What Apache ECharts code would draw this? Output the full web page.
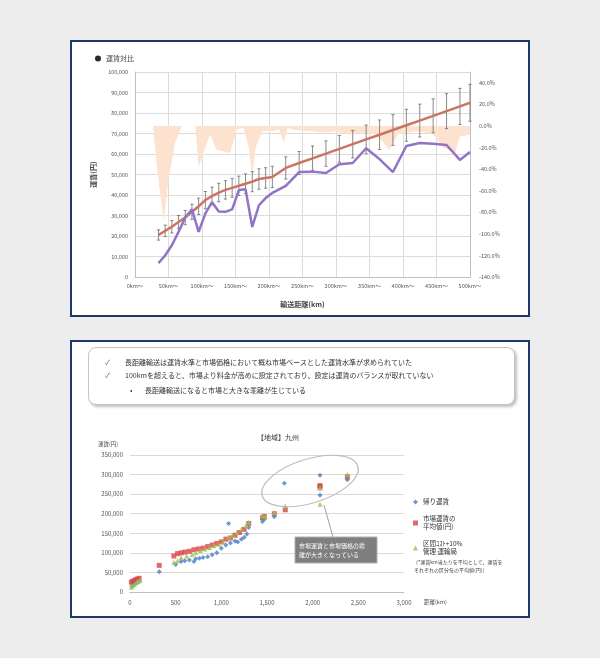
<!DOCTYPE html>
<html><head><meta charset="utf-8">
<script src="https://cdn.jsdelivr.net/npm/echarts@6/dist/echarts.min.js"></script>
<style>
html,body{margin:0;padding:0;background:#ededed;width:600px;height:658px;overflow:hidden;}
.panel{position:absolute;background:#fff;border:2px solid #1b3a6b;box-sizing:border-box;}
#box{position:absolute;left:88px;top:347px;width:427px;height:58px;border:1.5px solid #c4c4c4;border-radius:8px;box-sizing:border-box;box-shadow:2px 2px 3px rgba(0,0,0,0.25);background:#fff;}
#chart{position:absolute;left:0;top:0;width:600px;height:658px;}
</style></head>
<body>
<div class="panel" style="left:70px;top:40px;width:460px;height:277px;"></div>
<div class="panel" style="left:70px;top:340px;width:460px;height:278px;"></div>
<div id="box"></div>
<div id="chart"></div>
<script>
// ---------- Chart 1 data ----------
const km1 = [35,45,55,65,75,85,95,105,115,125,135,145,155,165,175,185,195,205,225,245,265,285,305,325,345,365,385,405,425,445,465,485,500];
const fare = [20500,22500,24500,26800,29000,31800,34500,37500,39500,41200,42500,43500,44500,45500,46500,47800,48300,48800,53200,55600,57900,60200,62500,64800,67100,69400,71700,74000,76300,78600,80900,83200,85000];
const market = [6800,10500,15500,22000,29000,33000,22000,31000,36500,32000,31800,33000,42400,42800,24400,35000,38500,41000,44500,51200,51400,50700,55000,55600,62800,57500,51200,63900,65400,65000,64400,57100,61000];
const errHigh = [23000,25300,27500,30000,32500,35500,38500,41700,43800,45700,47000,48100,49200,50300,51400,52800,53300,54000,58600,61200,63900,66400,69000,71500,74100,76600,79200,81800,84300,86900,89400,92000,94000];
const errLow = [18000,19700,21500,23600,25500,28100,30500,33300,35200,36700,38000,38900,39800,40700,41600,42800,43300,43600,47800,50000,51900,54000,56000,58100,60100,62200,64200,66200,68300,70300,72400,74400,76000];
const ratioKm = [27,33,43,50,60,70,90,95,112,122,142,152,162,170,175,180,190,205,215,222,228,240,260,280,300,320,340,360,380,392,405,425,445,460,478,485,500];
const ratioPct = [0,-40,-88,-50,-15,0,0,-38,-8,-22,-25,-3,-2,-20,-48,-20,-5,-5,-3,-15,-2,-4,-5,-6,-5,-8,-6,-8,-22,-8,-6,-5,-8,-20,-25,-10,-8];
const xTicks1 = ['0km～','50km～','100km～','150km～','200km～','250km～','300km～','350km～','400km～','450km～','500km～'];

// ---------- Chart 2 data ----------
const returnFare = [[20,15000],[40,18000],[60,21000],[80,24000],[100,27000],[320,52000],[500,70000],[560,78000],[600,80000],[650,82000],[700,78000],[720,85000],[760,86000],[800,88000],[850,90000],[900,95000],[950,100000],[1000,112000],[1050,120000],[1080,175000],[1100,125000],[1150,130000],[1180,128000],[1220,135000],[1250,140000],[1280,148000],[1300,165000],[1450,180000],[1470,186000],[1580,192000],[1690,278000],[2080,298000],[2080,247000],[2380,287000]];
const marketAvg = [[15,25000],[30,27000],[45,29000],[60,31000],[80,33000],[100,35000],[320,68000],[480,92000],[520,98000],[560,100000],[600,102000],[650,104000],[700,108000],[750,110000],[800,112000],[850,116000],[900,120000],[950,124000],[1000,128000],[1050,135000],[1100,138000],[1150,145000],[1200,152000],[1250,160000],[1300,175000],[1450,190000],[1470,193000],[1580,200000],[1700,210000],[2080,272000],[2080,268000],[2380,294000]];
const costPlus = [[15,12000],[30,16000],[50,20000],[70,24000],[90,28000],[110,30000],[480,76000],[520,80000],[560,88000],[620,92000],[680,96000],[720,100000],[770,106000],[820,110000],[870,114000],[920,118000],[970,122000],[1020,128000],[1080,140000],[1120,145000],[1170,152000],[1220,160000],[1270,170000],[1300,178000],[1450,195000],[1480,192000],[1580,203000],[1700,220000],[2080,265000],[2080,224000],[2380,300000]];
const seriesNames2 = ['帰り運賃','市場運賃の\n平均値(円)','区間ｺｽﾄ+10%\n管理 運輸局'];

const bullets = [
  '長距離輸送は運賃水準と市場価格において概ね市場ベースとした運賃水準が求められていた',
  '100kmを超えると、市場より料金が高めに設定されており、設定は運賃のバランスが取れていない',
  '長距離輸送になると市場と大きな乖離が生じている'
];

const F = '"Noto Sans CJK JP","Noto Sans",sans-serif';
const fmt = v => v.toLocaleString('en-US');
const chart = echarts.init(document.getElementById('chart'), null, {renderer:'canvas'});

const txt = (x,y,t,size,color,extra) => Object.assign({type:'text',left:x,top:y,style:{text:t,fontSize:size,fill:color||'#333',fontFamily:F}}, extra||{});

chart.setOption({
  backgroundColor:'transparent',
  animation:false,
  textStyle:{fontFamily:F},
  grid:[
    {left:135,top:72,width:335,height:205},
    {left:130,top:455,width:274,height:137}
  ],
  legend:[
    {left:90,top:50,itemWidth:6,itemHeight:6,icon:'circle',textStyle:{fontSize:7,color:'#444'},
     data:[{name:'運賃対比',itemStyle:{color:'#2a2a2a'}}]},
    {orient:'vertical',left:408,top:493,itemGap:9,itemWidth:5,itemHeight:5,
     textStyle:{fontSize:6.5,lineHeight:8,color:'#333'},data:seriesNames2}
  ],
  xAxis:[
    {gridIndex:0,type:'value',min:0,max:500,interval:50,
     name:'輸送距離(km)',nameLocation:'middle',nameGap:24,nameTextStyle:{fontSize:7,fontWeight:'bold',color:'#444'},
     axisLine:{lineStyle:{color:'#bfbfbf'}},axisTick:{show:false},
     splitLine:{show:true,lineStyle:{color:'#dcdcdc',width:1}},
     axisLabel:{fontSize:5.5,color:'#555',margin:6,formatter:v=>xTicks1[Math.round(v/50)]}},
    {gridIndex:1,type:'value',min:0,max:3000,interval:500,
     axisLine:{lineStyle:{color:'#bfbfbf'}},axisTick:{show:false},splitLine:{show:false},
     axisLabel:{fontSize:6,color:'#555',margin:8,formatter:fmt}}
  ],
  yAxis:[
    {gridIndex:0,type:'value',min:0,max:100000,interval:10000,
     name:'運賃(円)',nameLocation:'middle',nameRotate:90,nameGap:31,nameTextStyle:{fontSize:7,fontWeight:'bold',color:'#444'},
     axisLine:{show:true,lineStyle:{color:'#bfbfbf'}},axisTick:{show:false},
     splitLine:{lineStyle:{color:'#dcdcdc'}},
     axisLabel:{fontSize:5.5,color:'#555',margin:7,formatter:fmt}},
    {gridIndex:0,type:'value',min:-140,max:50,interval:20,position:'right',
     axisLine:{show:true,lineStyle:{color:'#bfbfbf'}},axisTick:{show:false},splitLine:{show:false},
     axisLabel:{fontSize:5.5,color:'#555',margin:9,showMaxLabel:false,formatter:v=>v.toFixed(1)+'%'}},
    {gridIndex:1,type:'value',min:0,max:350000,interval:50000,
     axisLine:{show:false},axisTick:{show:false},
     splitLine:{lineStyle:{color:'#d9d9d9'}},
     axisLabel:{fontSize:6,color:'#555',margin:7,formatter:fmt}}
  ],
  series:[
    {name:'比率',type:'line',xAxisIndex:0,yAxisIndex:1,data:ratioKm.map((k,i)=>[k,ratioPct[i]]),
     symbol:'none',lineStyle:{width:0},areaStyle:{color:'#fde3cf',opacity:1},z:1},
    {name:'誤差',type:'custom',xAxisIndex:0,yAxisIndex:0,z:3,
     data:km1.map((k,i)=>[k,errLow[i],errHigh[i]]),encode:{x:0,y:[1,2]},
     renderItem:(params,api)=>{
       const a=api.coord([api.value(0),api.value(1)]), b=api.coord([api.value(0),api.value(2)]), w=1.6;
       const st={stroke:'#6b6b6b',lineWidth:0.8};
       return {type:'group',children:[
         {type:'line',shape:{x1:a[0],y1:a[1],x2:b[0],y2:b[1]},style:st},
         {type:'line',shape:{x1:a[0]-w,y1:a[1],x2:a[0]+w,y2:a[1]},style:st},
         {type:'line',shape:{x1:b[0]-w,y1:b[1],x2:b[0]+w,y2:b[1]},style:st}
       ]};
     }},
    {name:'運賃対比',type:'line',xAxisIndex:0,yAxisIndex:0,data:km1.map((k,i)=>[k,fare[i]]),
     symbol:'none',lineStyle:{color:'#c97564',width:2.5},itemStyle:{color:'#c97564'},z:4},
    {name:'市場価格',type:'line',xAxisIndex:0,yAxisIndex:0,data:km1.map((k,i)=>[k,market[i]]),
     symbol:'none',lineStyle:{color:'#9174c6',width:2.5},itemStyle:{color:'#9174c6'},z:5},
    {name:seriesNames2[0],type:'scatter',xAxisIndex:1,yAxisIndex:2,data:returnFare,symbol:'diamond',symbolSize:5,itemStyle:{color:'#4a7ec0'},z:4},
    {name:seriesNames2[1],type:'scatter',xAxisIndex:1,yAxisIndex:2,data:marketAvg,symbol:'rect',symbolSize:5,itemStyle:{color:'#dc4545'},z:3},
    {name:seriesNames2[2],type:'scatter',xAxisIndex:1,yAxisIndex:2,data:costPlus,symbol:'triangle',symbolSize:5,itemStyle:{color:'#9cc153'},z:5}
  ],
  graphic:[
    txt(105,359,'✓',7,'#666'), txt(125,359,bullets[0],7,'#333'),
    txt(105,372,'✓',7,'#666'), txt(125,372,bullets[1],7,'#333'),
    txt(130,387,'•',7,'#333'), txt(145,387,bullets[2],7,'#333'),
    txt(257,434,'【地域】九州',7,'#333'),
    txt(98,441,'運賃(円)',5.5,'#444'),
    txt(424,599,'距離(km)',5.5,'#444'),
    {type:'text',left:413,top:558,style:{text:'（*運賃km当たりを平均として、運賃を\n それぞれの区分毎の平均値(円)）',fontSize:5,lineHeight:8,fill:'#444',fontFamily:F}},
    {type:'ellipse',shape:{cx:0,cy:0,rx:50,ry:22},x:310,y:481,rotation:0.3,style:{fill:'none',stroke:'#bdbdbd',lineWidth:1.2},z:10},
    {type:'line',shape:{x1:333,y1:537,x2:324,y2:505},style:{stroke:'#a0a0a0',lineWidth:1},z:10},
    {type:'rect',shape:{x:295,y:537,width:82,height:26},style:{fill:'#7f7f7f',stroke:'#b0b0b0',lineWidth:1},z:10},
    {type:'text',x:299,y:541,style:{text:'市場運賃と市場価格の乖\n離が大きくなっている',fontSize:6,lineHeight:9,fill:'#fff',fontFamily:F},z:11}
  ]
});
</script>
</body></html>
